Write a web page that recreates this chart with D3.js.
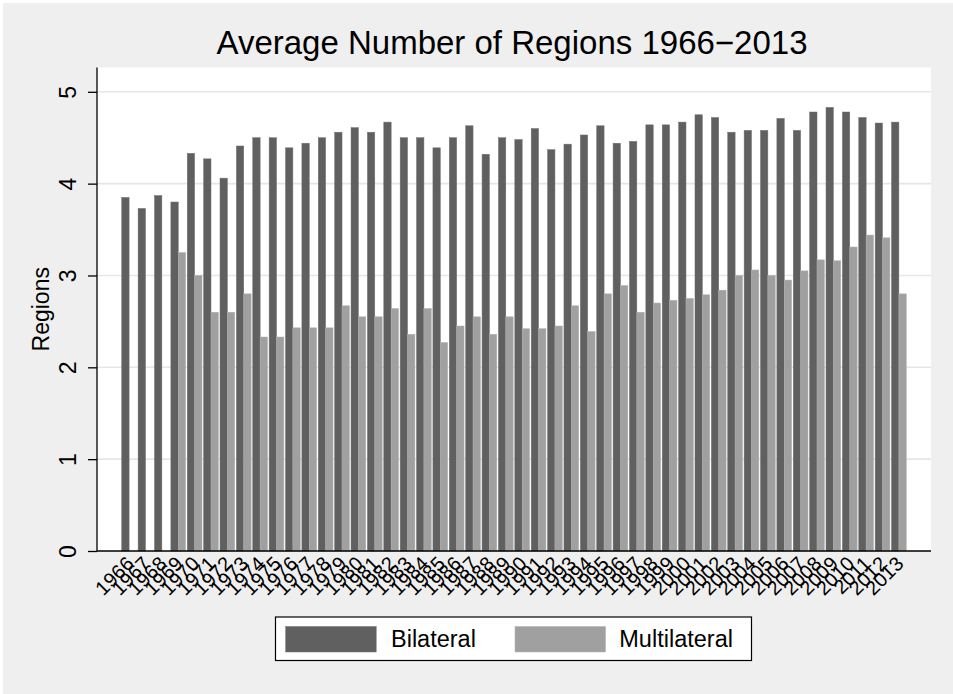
<!DOCTYPE html>
<html>
<head>
<meta charset="utf-8">
<script src="https://cdn.jsdelivr.net/npm/d3@7"></script>
<style>
  html, body { margin: 0; padding: 0; background: #ffffff; }
  svg { display: block; font-family: "Liberation Sans", Arial, Helvetica, sans-serif; }
</style>
</head>
<body>
<svg id="chart" width="953" height="694"></svg>
<script>
const years = [1966,1967,1968,1969,1970,1971,1972,1973,1974,1975,1976,1977,1978,1979,1980,1981,1982,1983,1984,1985,1986,1987,1988,1989,1990,1991,1992,1993,1994,1995,1996,1997,1998,1999,2000,2001,2002,2003,2004,2005,2006,2007,2008,2009,2010,2011,2012,2013];
const bilateral = [3.85,3.73,3.87,3.80,4.33,4.27,4.06,4.41,4.50,4.50,4.39,4.44,4.50,4.56,4.61,4.56,4.67,4.50,4.50,4.39,4.50,4.63,4.32,4.50,4.48,4.60,4.37,4.43,4.53,4.63,4.44,4.46,4.64,4.64,4.67,4.75,4.72,4.56,4.58,4.58,4.71,4.58,4.78,4.83,4.78,4.72,4.66,4.67];
const multilateral = [0,0,0,3.25,3.00,2.60,2.60,2.80,2.33,2.33,2.43,2.43,2.43,2.67,2.55,2.55,2.64,2.36,2.64,2.27,2.45,2.55,2.36,2.55,2.42,2.42,2.45,2.67,2.39,2.80,2.89,2.60,2.70,2.73,2.75,2.79,2.84,3.00,3.06,3.00,2.95,3.05,3.17,3.16,3.31,3.44,3.41,2.80];
const seriesNames = ["Bilateral","Multilateral"];
const seriesColors = ["#606060","#a0a0a0"];
const yTicks = [0,1,2,3,4,5];
const titleText = "Average Number of Regions 1966\u22122013";
const yTitle = "Regions";

const svg = d3.select("#chart");
const W = 953, H = 694;
const plot = {left: 97, right: 931, top: 67.5, bottom: 551};

svg.append("rect").attr("x",0).attr("y",0).attr("width",W).attr("height",H).attr("fill","#ffffff");
svg.append("rect").attr("x",3).attr("y",3).attr("width",W-3).attr("height",H-3).attr("fill","#efefef");
svg.append("rect").attr("x",plot.left).attr("y",plot.top)
  .attr("width",plot.right-plot.left).attr("height",plot.bottom-plot.top).attr("fill","#ffffff");

const x0 = d3.scaleBand().domain(years).range([plot.left, plot.right]).paddingInner(0.1).paddingOuter(1.51);
const x1 = d3.scaleBand().domain(seriesNames).range([0, x0.bandwidth()]);
const y = d3.scaleLinear().domain([0, 5.2646]).range([plot.bottom, plot.top]);

svg.append("g").selectAll("line").data(yTicks.filter(d => d > 0)).join("line")
  .attr("x1", plot.left).attr("x2", plot.right)
  .attr("y1", d => y(d)).attr("y2", d => y(d))
  .attr("stroke", "#e6e6e6").attr("stroke-width", 1.6);

const data = years.map((yr, i) => ({year: yr, values: [bilateral[i], multilateral[i]]}));
const groups = svg.append("g").selectAll("g").data(data).join("g")
  .attr("transform", d => `translate(${x0(d.year)},0)`);
groups.selectAll("rect").data(d => d.values.map((v, j) => ({name: seriesNames[j], v, j})).filter(e => e.v > 0))
  .join("rect")
  .attr("x", e => x1(e.name))
  .attr("width", x1.bandwidth())
  .attr("y", e => y(e.v))
  .attr("height", e => y(0) - y(e.v))
  .attr("fill", e => seriesColors[e.j])
  .attr("stroke", e => e.j === 0 ? "#707070" : "#b0b0b0")
  .attr("stroke-width", 0.5);

const yAxis = d3.axisLeft(y).tickValues(yTicks).tickSize(9).tickFormat(d3.format("d"));
const gy = svg.append("g").attr("transform", `translate(${plot.left},0)`).call(yAxis);
gy.select(".domain").attr("d", `M0,${plot.top}V${plot.bottom}`).attr("stroke","#000").attr("stroke-width",1.3);
gy.selectAll(".tick line").attr("stroke","#000").attr("stroke-width",1.3);
gy.selectAll(".tick text")
  .attr("font-size", 23).attr("fill","#000")
  .attr("text-anchor","middle")
  .attr("x", null).attr("dy", null)
  .attr("transform", "translate(-21,0) rotate(-90)");

const xAxis = d3.axisBottom(x0).tickSize(0).tickPadding(0);
const gx = svg.append("g").attr("transform", `translate(0,${plot.bottom})`).call(xAxis);
gx.select(".domain").attr("d", `M${plot.left},0H${plot.right}`).attr("stroke","#000").attr("stroke-width",1.3);
gx.selectAll(".tick text")
  .attr("font-size", 20).attr("fill","#000")
  .attr("text-anchor","end")
  .attr("y", null).attr("dy", "0.35em")
  .attr("transform", "translate(1,9) rotate(-45)");

svg.append("text")
  .attr("transform", `translate(48.5,${(plot.top+plot.bottom)/2}) rotate(-90)`)
  .attr("text-anchor","middle").attr("font-size",23).attr("fill","#000")
  .text(yTitle);

svg.append("text")
  .attr("x", 512).attr("y", 54)
  .attr("text-anchor","middle").attr("font-size",33).attr("fill","#000")
  .text(titleText);

const lg = svg.append("g");
lg.append("rect").attr("x",275.5).attr("y",617).attr("width",476).attr("height",43.5)
  .attr("fill","#ffffff").attr("stroke","#000").attr("stroke-width",1.2);
const legendItems = [{sx:285.7, tx:391}, {sx:515, tx:619.3}];
lg.selectAll("g.item").data(seriesNames).join("g").attr("class","item").each(function(d, i) {
  const g = d3.select(this);
  g.append("rect").attr("x", legendItems[i].sx).attr("y", 626.5).attr("width", 90.5).attr("height", 25.5)
    .attr("fill", seriesColors[i]).attr("stroke", i === 0 ? "#707070" : "#b0b0b0").attr("stroke-width",0.5);
  g.append("text").attr("x", legendItems[i].tx).attr("y", 647).attr("font-size", 23.5).attr("fill","#000").text(d);
});
</script>
</body>
</html>
